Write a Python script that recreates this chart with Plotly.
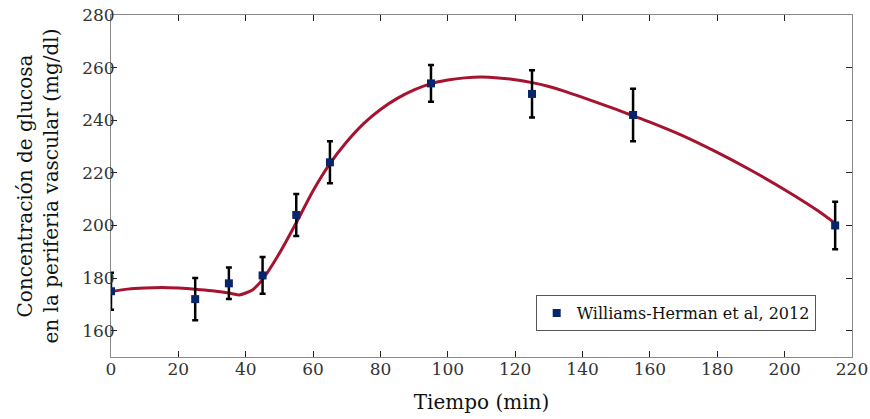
import plotly.graph_objects as go

# measured points (Williams-Herman et al, 2012)
tiempo = [0, 25, 35, 45, 55, 65, 95, 125, 155, 215]
glucosa = [175, 172, 178, 181, 204, 224, 254, 250, 242, 200]
error = [7, 8, 6, 7, 8, 8, 7, 9, 10, 9]

# fitted curve
curva_t = [0, 5, 10, 15, 20, 25, 30, 35, 38, 42, 45, 50, 55, 60, 65, 70, 75, 80,
           85, 90, 95, 100, 105, 110, 115, 120, 125, 130, 135, 140, 145, 150,
           155, 160, 170, 180, 190, 200, 210, 215]
curva_g = [174.9, 175.8, 176.2, 176.4, 176.2, 175.8, 175.2, 174.3, 173.6, 175.5,
           179.5, 189.4, 201.0, 213.2, 223.5, 231.8, 238.7, 244.1, 248.3, 251.5,
           253.9, 255.3, 256.1, 256.4, 256.1, 255.4, 254.3, 252.8, 250.9, 248.7,
           246.4, 244.1, 241.7, 239.3, 234.0, 227.8, 221.0, 213.6, 205.5, 200.8]

xticks = [0, 20, 40, 60, 80, 100, 120, 140, 160, 180, 200, 220]
yticks = [160, 180, 200, 220, 240, 260, 280]

fuente = "DejaVu Serif"

fig = go.Figure()
fig.add_trace(go.Scatter(x=curva_t, y=curva_g, mode="lines",
                         line=dict(color="#a5132f", width=3, shape="spline", smoothing=0.7),
                         showlegend=False, hoverinfo="skip"))
fig.add_trace(go.Scatter(x=tiempo, y=glucosa, mode="markers",
                         name="Williams-Herman et al, 2012",
                         marker=dict(symbol="square", size=8, color="#06256b"),
                         error_y=dict(type="data", array=error, color="black",
                                      thickness=2.5, width=3)))

eje = dict(showline=True, linecolor="#8a8a8a", linewidth=1, mirror="ticks",
           ticks="inside", ticklen=6, tickcolor="#222", showgrid=False,
           zeroline=False, automargin=False, ticklabeloverflow="allow",
           tickfont=dict(family=fuente, size=17, color="#333"))

fig.update_xaxes(range=[0, 220], tickvals=xticks, ticklabelstandoff=-3,
                 title=dict(text="Tiempo (min)", font=dict(family=fuente, size=20, color="#111"),
                            standoff=16), **eje)
fig.update_yaxes(range=[150, 280], tickvals=yticks, ticklabelstandoff=-8,
                 title=dict(text="Concentración de glucosa<br>en la periferia vascular (mg/dl)",
                            font=dict(family=fuente, size=20, color="#111"), standoff=18), **eje)

fig.update_layout(width=870, height=419, plot_bgcolor="white", paper_bgcolor="white",
                  margin=dict(l=111, r=18, t=15, b=62),
                  legend=dict(x=0.951, y=0.076, xanchor="right", yanchor="bottom",
                              bgcolor="white", bordercolor="#555", borderwidth=1,
                              font=dict(family=fuente, size=16, color="#111"),
                              itemwidth=30, tracegroupgap=0))

# drop the default 8px page margin so the figure sits at the window corner
fig.write_html("out.html", config={"displayModeBar": False},
               post_script="document.body.style.margin='0';document.body.style.overflow='hidden';")
